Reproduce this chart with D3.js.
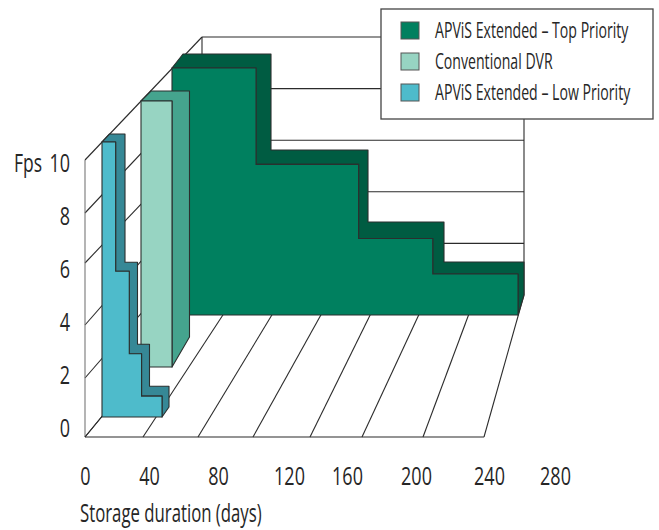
<!DOCTYPE html>
<html>
<head>
<meta charset="utf-8">
<script src="https://cdn.jsdelivr.net/npm/d3@7"></script>
<style>
body { margin: 0; background: #fff; }
text { font-family: "Open Sans", sans-serif; fill: #262626; }
</style>
</head>
<body>
<div class="content"></div>
<script>
var xTicks = [0, 40, 80, 120, 160, 200, 240, 280];
var yTicks = [0, 2, 4, 6, 8, 10];
var legendLabels = ["APViS Extended \u2013 Top Priority", "Conventional DVR", "APViS Extended \u2013 Low Priority"];

// [days, fps] where each step ends
var topPriority = [[68, 10], [151, 6.1], [211, 3.1], [280, 1.66]];
var conventional = [[24, 10]];
var lowPriority = [[10, 10], [20, 5.3], [29, 2.3], [44, 0.76]];

var svg = d3.select(".content")
  .append("svg")
  .attr("width", 659)
  .attr("height", 530);

// the font is too wide, so squeeze the text around its own anchor
function narrow(sel, ratio) {
  sel.each(function() {
    var x = +this.getAttribute("x") || 0;
    d3.select(this).attr("transform",
      "translate(" + x + ",0) scale(" + ratio + ",1) translate(" + (-x) + ",0)");
  });
}

// floor and walls
var floorFront = d3.scaleLinear().domain(xTicks).range([85, 143, 198, 253, 310, 362, 423, 484]);
var floorBack = d3.scaleLinear().domain([0, 280]).range([188, 524]);
var wallFront = d3.scaleLinear().domain(yTicks).range([437, 378, 325, 263, 213, 160]);
var wallBack = d3.scaleLinear().domain([0, 10]).range([295, 37]);
var labelX = d3.scaleLinear().domain(xTicks).range([85, 149, 218, 289, 347, 416, 489, 555]);
var labelY = d3.scaleLinear().domain([0, 10]).range([428, 163]);

function line(x1, y1, x2, y2, color) {
  svg.append("line")
    .attr("x1", x1).attr("y1", y1).attr("x2", x2).attr("y2", y2)
    .attr("stroke", color || "#2b2b2b").attr("stroke-width", 1.1);
}

yTicks.forEach(function(d) {
  line(85, wallFront(d), 202, wallBack(d));
  line(202, wallBack(d), 524, wallBack(d));
});
line(85, wallFront(0), 85, wallFront(10), "#777");
line(202, wallBack(0), 202, wallBack(10));
line(524, wallBack(0), 524, wallBack(10));
line(85, wallFront(0), 484, wallFront(0));
line(85, wallFront(0), 202, wallBack(0));
xTicks.slice(1).forEach(function(d) {
  line(floorFront(d), wallFront(0), floorBack(d), wallBack(0));
});

// one front plane and one back plane per series, back planes bend a bit with the perspective
var series = [
  {
    data: topPriority, front: "#00805f", side: "#005c42",
    fx: [0, 280], fxr: [172, 518], fy: [0, 10], fyr: [315, 68],
    bx: [0, 68, 151, 211, 280], bxr: [183, 271, 368, 444, 524],
    by: [0, 1.66, 3.1, 6.1, 10], byr: [295, 262, 222, 150, 54]
  },
  {
    data: conventional, front: "#97d4c2", side: "#45a48e",
    fx: [0, 24], fxr: [141, 172], fy: [0, 10], fyr: [367, 101],
    bx: [0, 24], bxr: [151, 189.5],
    by: [0, 10], byr: [337, 91]
  },
  {
    data: lowPriority, front: "#4ebbcb", side: "#368896",
    fx: [0, 44], fxr: [102, 162], fy: [0, 10], fyr: [417, 142],
    bx: [0, 10, 20, 29, 44], bxr: [109.5, 125, 137.5, 149.5, 169],
    by: [0, 10], byr: [407, 134]
  }
];

series.forEach(function(s) {
  var fx = d3.scaleLinear().domain(s.fx).range(s.fxr);
  var fy = d3.scaleLinear().domain(s.fy).range(s.fyr);
  var bx = d3.scaleLinear().domain(s.bx).range(s.bxr);
  var by = d3.scaleLinear().domain(s.by).range(s.byr);

  // outline of the steps, from the top left corner to the bottom right one
  var pts = [[0, s.data[0][1]]];
  s.data.forEach(function(d, i) {
    pts.push([d[0], d[1]]);
    var next = i < s.data.length - 1 ? s.data[i + 1][1] : 0;
    pts.push([d[0], next]);
  });

  var path = d3.line();
  var frontPts = pts.map(function(p) { return [fx(p[0]), fy(p[1])]; });
  var backPts = pts.map(function(p) { return [bx(p[0]), by(p[1])]; });

  svg.append("path")
    .attr("d", path(frontPts.concat(backPts.slice().reverse())) + "Z")
    .attr("fill", s.side)
    .attr("stroke", "#2b2f2e").attr("stroke-width", 1.1).attr("stroke-linejoin", "round");

  svg.append("path")
    .attr("d", path(frontPts.concat([[fx(0), fy(0)]])) + "Z")
    .attr("fill", s.front)
    .attr("stroke", "#2b2f2e").attr("stroke-width", 1.1);
});

// axis labels
var xAxis = svg.append("g")
  .attr("transform", "translate(0,485)")
  .call(d3.axisBottom(labelX).tickValues(xTicks).tickSize(0).tickPadding(0));
xAxis.select(".domain").remove();
xAxis.selectAll("text")
  .style("font-size", "25px")
  .attr("y", 0).attr("dy", 0)
  .call(narrow, 0.72);

var yAxis = svg.append("g")
  .attr("transform", "translate(70,0)")
  .call(d3.axisLeft(labelY).tickValues(yTicks).tickSize(0).tickPadding(0));
yAxis.select(".domain").remove();
yAxis.selectAll("text")
  .style("font-size", "25px")
  .call(narrow, 0.72);

svg.append("text").text("Fps")
  .attr("x", 14).attr("y", 172).style("font-size", "25px")
  .call(narrow, 0.7);
svg.append("text").text("Storage duration (days)")
  .attr("x", 80).attr("y", 522).style("font-size", "26px")
  .call(narrow, 0.645);

// legend
svg.append("rect")
  .attr("x", 381).attr("y", 9).attr("width", 272).attr("height", 110)
  .attr("fill", "#fff").attr("stroke", "#444").attr("stroke-width", 1.3);

var legend = svg.selectAll(".legend")
  .data(legendLabels)
  .enter()
  .append("g").attr("class", "legend")
  .attr("transform", function(d, i) { return "translate(401," + (22 + i * 31) + ")"; });

legend.append("rect")
  .attr("width", 18).attr("height", 17)
  .attr("stroke", "#555").attr("stroke-width", 1)
  .attr("fill", function(d, i) { return series[i].front; });

legend.append("text")
  .text(function(d) { return d; })
  .attr("x", 34).attr("y", 16)
  .style("font-size", "21px")
  .call(narrow, 0.672);
</script>
</body>
</html>
